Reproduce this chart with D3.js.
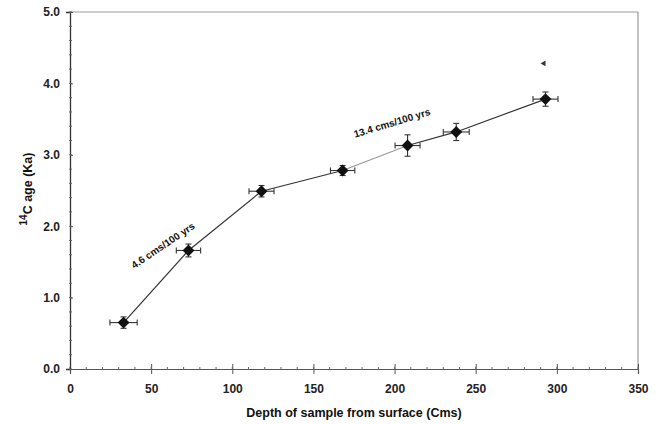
<!DOCTYPE html>
<html>
<head>
<meta charset="utf-8">
<script src="https://cdn.jsdelivr.net/npm/d3@7"></script>
<style>
  body { margin: 0; background: #fff; }
  text { font-family: "Liberation Sans", Arial, sans-serif; }
</style>
</head>
<body>
<script>
// sample data
var depth = [33, 73, 118, 168, 208, 238, 293];
var age = [0.65, 1.66, 2.49, 2.78, 3.13, 3.32, 3.78];
var depthErr = [8.4, 7.5, 7.7, 7.5, 7.7, 8, 7.7];
var ageErr = [0.08, 0.09, 0.08, 0.07, 0.15, 0.12, 0.1];
// lone open marker at the top right
var extraPoint = [292, 4.28];
var xTicks = [0, 50, 100, 150, 200, 250, 300, 350];
var yTicks = [0, 1, 2, 3, 4, 5];
var yTickLabels = ["0.0", "1.0", "2.0", "3.0", "4.0", "5.0"];
var rateLabels = ["4.6 cms/100 yrs", "13.4 cms/100 yrs"];

function drawChart() {
  var w = 661, h = 424;
  var left = 70, right = 638, top = 12, bottom = 369;

  var svg = d3.select("body").append("svg")
    .attr("width", w)
    .attr("height", h);

  var xScale = d3.scaleLinear().domain([0, 350]).range([left, right]);
  var yScale = d3.scaleLinear().domain([0, 5]).range([bottom, top]);

  // frame: top and right edges in grey
  svg.append("line")
    .attr("x1", left).attr("x2", right)
    .attr("y1", top).attr("y2", top)
    .attr("stroke", "#999").attr("stroke-width", 1.2);
  svg.append("line")
    .attr("x1", right).attr("x2", right)
    .attr("y1", top).attr("y2", bottom)
    .attr("stroke", "#999").attr("stroke-width", 1.2);

  // minor ticks
  var xMinor = d3.range(0, 351, 10);
  var yMinor = d3.range(0, 5.01, 0.2);

  var xAxis = d3.axisBottom(xScale)
    .tickValues(xTicks)
    .tickSize(5)
    .tickPadding(10)
    .tickFormat(d3.format("d"));
  var gx = svg.append("g")
    .attr("transform", "translate(0," + bottom + ")")
    .call(xAxis);
  gx.select(".domain").attr("stroke", "#555").attr("stroke-width", 1.2);
  gx.selectAll(".tick line").attr("y1", -5).attr("stroke", "#555");
  gx.selectAll(".tick text")
    .attr("font-size", "12px").attr("font-weight", "bold")
    .attr("font-family", "Liberation Sans, Arial, sans-serif").attr("fill", "#222");
  gx.selectAll(".minor").data(xMinor).enter().append("line")
    .attr("class", "minor")
    .attr("x1", d => xScale(d)).attr("x2", d => xScale(d))
    .attr("y1", -2).attr("y2", 1)
    .attr("stroke", "#666");

  var yAxis = d3.axisLeft(yScale)
    .tickValues(yTicks)
    .tickSize(4)
    .tickPadding(6)
    .tickFormat((d, i) => yTickLabels[i]);
  var gy = svg.append("g")
    .attr("transform", "translate(" + left + ",0)")
    .call(yAxis);
  gy.select(".domain").attr("stroke", "#333").attr("stroke-width", 1.3);
  gy.selectAll(".tick line").attr("x2", 3).attr("stroke", "#555");
  gy.selectAll(".tick text")
    .attr("font-size", "12px").attr("font-weight", "bold")
    .attr("font-family", "Liberation Sans, Arial, sans-serif").attr("fill", "#222");
  gy.selectAll(".minor").data(yMinor).enter().append("line")
    .attr("class", "minor")
    .attr("x1", -1).attr("x2", 2)
    .attr("y1", d => yScale(d)).attr("y2", d => yScale(d))
    .attr("stroke", "#666");

  // connecting line, segment by segment
  var pts = depth.map((d, i) => [d, age[i]]);
  svg.selectAll(".seg")
    .data(pts.slice(1))
    .enter()
    .append("line")
    .attr("class", "seg")
    .attr("x1", (d, i) => xScale(pts[i][0]))
    .attr("y1", (d, i) => yScale(pts[i][1]))
    .attr("x2", d => xScale(d[0]))
    .attr("y2", d => yScale(d[1]))
    .attr("stroke", (d, i) => i === 3 ? "#999" : "#333")
    .attr("stroke-width", 1.2);

  // error bars
  var eb = svg.selectAll(".err").data(pts).enter().append("g").attr("class", "err")
    .attr("stroke", "#333").attr("stroke-width", 1.1);
  eb.append("line")
    .attr("x1", (d, i) => xScale(d[0] - depthErr[i]))
    .attr("x2", (d, i) => xScale(d[0] + depthErr[i]))
    .attr("y1", d => yScale(d[1])).attr("y2", d => yScale(d[1]));
  eb.append("line")
    .attr("x1", (d, i) => xScale(d[0] - depthErr[i])).attr("x2", (d, i) => xScale(d[0] - depthErr[i]))
    .attr("y1", d => yScale(d[1]) - 3).attr("y2", d => yScale(d[1]) + 3);
  eb.append("line")
    .attr("x1", (d, i) => xScale(d[0] + depthErr[i])).attr("x2", (d, i) => xScale(d[0] + depthErr[i]))
    .attr("y1", d => yScale(d[1]) - 3).attr("y2", d => yScale(d[1]) + 3);
  eb.append("line")
    .attr("x1", d => xScale(d[0])).attr("x2", d => xScale(d[0]))
    .attr("y1", (d, i) => yScale(d[1] + ageErr[i]))
    .attr("y2", (d, i) => yScale(d[1] - ageErr[i]));
  eb.append("line")
    .attr("x1", d => xScale(d[0]) - 3).attr("x2", d => xScale(d[0]) + 3)
    .attr("y1", (d, i) => yScale(d[1] + ageErr[i]))
    .attr("y2", (d, i) => yScale(d[1] + ageErr[i]));
  eb.append("line")
    .attr("x1", d => xScale(d[0]) - 3).attr("x2", d => xScale(d[0]) + 3)
    .attr("y1", (d, i) => yScale(d[1] - ageErr[i]))
    .attr("y2", (d, i) => yScale(d[1] - ageErr[i]));

  // diamond markers
  svg.selectAll(".pt")
    .data(pts)
    .enter()
    .append("path")
    .attr("class", "pt")
    .attr("d", d3.symbol().type(d3.symbolDiamond2).size(90))
    .attr("transform", d => "translate(" + xScale(d[0]) + "," + yScale(d[1]) + ")")
    .attr("fill", "#111");

  // small triangle near top right
  svg.append("path")
    .attr("d", d3.symbol().type(d3.symbolTriangle).size(14))
    .attr("transform", "translate(" + xScale(extraPoint[0]) + "," + yScale(extraPoint[1]) + ") rotate(-90)")
    .attr("fill", "#333");

  // rate labels
  svg.append("text")
    .attr("transform", "translate(" + xScale(58.5) + "," + yScale(1.69) + ") rotate(-34)")
    .attr("text-anchor", "middle")
    .attr("font-size", "10px").attr("font-weight", "bold")
    .attr("fill", "#111")
    .text(rateLabels[0]);
  svg.append("text")
    .attr("transform", "translate(" + xScale(199) + "," + yScale(3.4) + ") rotate(-17)")
    .attr("text-anchor", "middle")
    .attr("font-size", "10px").attr("font-weight", "bold")
    .attr("fill", "#111")
    .text(rateLabels[1]);

  // axis titles
  svg.append("text")
    .attr("x", 354).attr("y", 417)
    .attr("text-anchor", "middle")
    .attr("font-size", "12.5px").attr("font-weight", "bold")
    .attr("fill", "#111")
    .text("Depth of sample from surface (Cms)");

  var yt = svg.append("text")
    .attr("transform", "translate(32,189) rotate(-90)")
    .attr("text-anchor", "middle")
    .attr("font-size", "12.5px").attr("font-weight", "bold")
    .attr("fill", "#111");
  yt.append("tspan").attr("dy", "-5").attr("font-size", "10px").text("14");
  yt.append("tspan").attr("dy", "5").text("C age (Ka)");
}

window.onload = function() {
  drawChart();
};
</script>
</body>
</html>
